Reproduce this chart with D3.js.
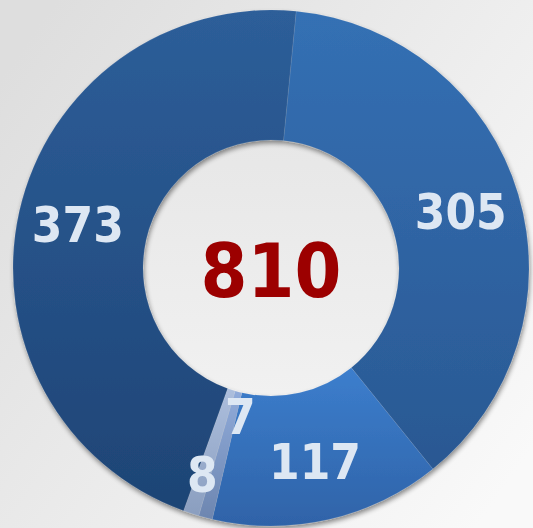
<!DOCTYPE html>
<html><head><meta charset="utf-8">
<script src="https://cdn.jsdelivr.net/npm/d3@7/dist/d3.min.js"></script>
<style>html,body{margin:0;padding:0;overflow:hidden;background:#e8e8e8}</style>
</head><body><svg id="c" width="533" height="528"></svg>
<script>
// ---- data ----
const categories = ["Segment A", "Segment B", "Segment C", "Segment D", "Segment E"];
const values = [305, 117, 7, 8, 373];
const topColors = ["#3470b4", "#3c7ecd", "#90abda", "#acbedd", "#2d5e99"];
const bottomColors = ["#2a5892", "#2f63a8", "#6d86b0", "#8a9ebf", "#1e4475"];

// ---- layout ----
const W = 533, H = 528;
const cx = 271, cy = 268, rOuter = 258, rInner = 128;
const startDeg = 5.6;
const svg = d3.select("#c");
const defs = svg.append("defs");

const bg = defs.append("linearGradient").attr("id", "bg")
  .attr("x1", 0).attr("y1", 0.15).attr("x2", 1).attr("y2", 0.85);
bg.append("stop").attr("offset", 0).attr("stop-color", "#dedede");
bg.append("stop").attr("offset", 1).attr("stop-color", "#f9f9f9");

const hole = defs.append("linearGradient").attr("id", "hole")
  .attr("x1", 0).attr("y1", 0).attr("x2", 0).attr("y2", 1);
hole.append("stop").attr("offset", 0).attr("stop-color", "#e7e7e7");
hole.append("stop").attr("offset", 1).attr("stop-color", "#f1f1f1");

categories.forEach((c, i) => {
  const g = defs.append("linearGradient").attr("id", "g" + i)
    .attr("x1", 0).attr("y1", 0).attr("x2", 0).attr("y2", 1);
  g.append("stop").attr("offset", 0).attr("stop-color", topColors[i]);
  g.append("stop").attr("offset", 1).attr("stop-color", bottomColors[i]);
});

const f = defs.append("filter").attr("id", "sh")
  .attr("x", "-10%").attr("y", "-10%").attr("width", "120%").attr("height", "120%");
f.append("feGaussianBlur").attr("in", "SourceAlpha").attr("stdDeviation", 2.5).attr("result", "b");
f.append("feOffset").attr("in", "b").attr("dx", 1).attr("dy", 3).attr("result", "o");
f.append("feComponentTransfer").attr("in", "o").attr("result", "t")
  .append("feFuncA").attr("type", "linear").attr("slope", 0.45);
const m = f.append("feMerge");
m.append("feMergeNode").attr("in", "t");
m.append("feMergeNode").attr("in", "SourceGraphic");

svg.append("rect").attr("width", W).attr("height", H).attr("fill", "url(#bg)");

const root = svg.append("g").attr("transform", `translate(${cx},${cy})`);
root.append("circle").attr("r", rInner + 2).attr("fill", "url(#hole)");

const start = startDeg * Math.PI / 180;
const pie = d3.pie().sort(null).value(d => d.v)
  .startAngle(start).endAngle(start + 2 * Math.PI);
const data = pie(categories.map((c, i) => ({ c, v: values[i], i })));
const arc = d3.arc().innerRadius(rInner).outerRadius(rOuter);

root.append("g").attr("filter", "url(#sh)")
  .selectAll("path").data(data).join("path")
  .attr("d", arc)
  .attr("fill", d => `url(#g${d.data.i})`)
  .attr("stroke", "rgba(255,255,255,0.1)")
  .attr("stroke-width", 0.8);

// labels
const total = d3.sum(values);
const fs = 49;
const labelPos = (d) => {
  let r = 198, a = (d.startAngle + d.endAngle) / 2;
  if (d.data.v / total < 0.02) {
    const smallIdx = data.filter(e => e.data.v / total < 0.02).indexOf(d);
    if (smallIdx === 0) { r = 151; a -= 3 * Math.PI / 180; }
    else { r = 217; a += 0.4 * Math.PI / 180; }
  }
  return [r * Math.sin(a), -r * Math.cos(a)];
};
root.selectAll("text.lbl").data(data).join("text")
  .attr("class", "lbl")
  .attr("x", d => labelPos(d)[0])
  .attr("y", d => labelPos(d)[1] + fs * 0.365)
  .attr("text-anchor", "middle")
  .attr("font-family", "'DejaVu Sans Condensed','DejaVu Sans',sans-serif")
  .attr("font-stretch", "condensed")
  .attr("font-weight", "bold")
  .attr("font-size", fs)
  .attr("fill", "#dde7f3")
  .text(d => d.data.v);

const cfs = 75;
root.append("text")
  .attr("x", 0).attr("y", 1.5 + cfs * 0.365)
  .attr("text-anchor", "middle")
  .attr("font-family", "'DejaVu Sans Condensed','DejaVu Sans',sans-serif")
  .attr("font-stretch", "condensed")
  .attr("font-weight", "bold")
  .attr("font-size", cfs)
  .attr("fill", "#9c0000")
  .text(total);
</script></body></html>
